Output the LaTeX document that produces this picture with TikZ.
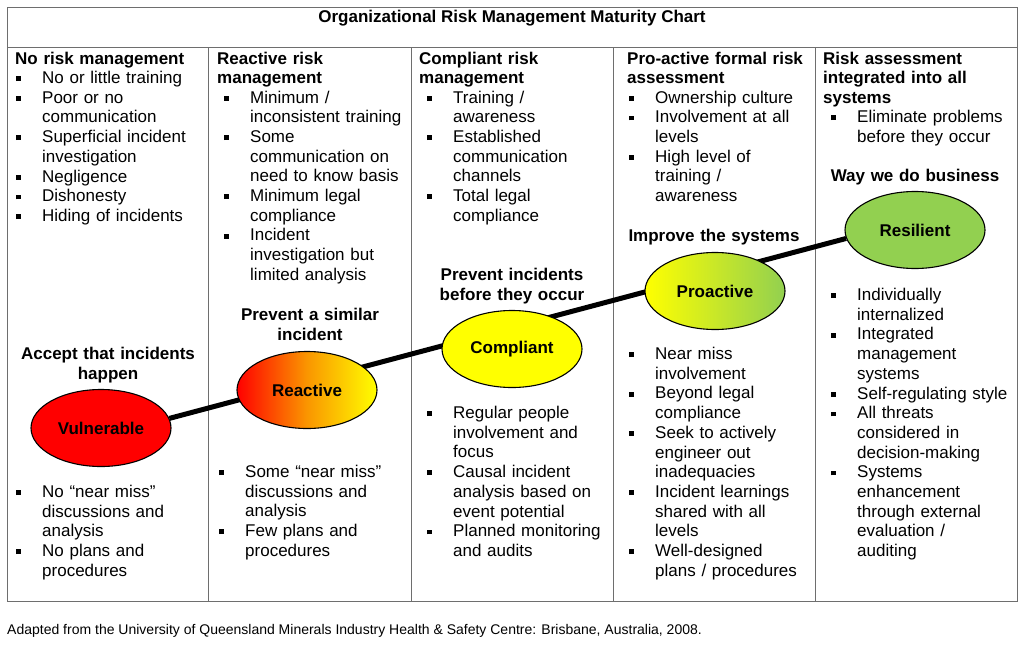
\documentclass[tikz,border=0pt]{standalone}
\usepackage{fontspec}
\setmainfont{Liberation Sans}
\usetikzlibrary{shapes.geometric,backgrounds}

\definecolor{riskred}{RGB}{255,0,0}
\definecolor{riskorange}{RGB}{250,150,0}
\definecolor{riskyellow}{RGB}{255,255,0}
\definecolor{riskgreen}{RGB}{146,208,80}
\definecolor{rulegray}{RGB}{110,110,110}

\newlength{\bgap}
\setlength{\bgap}{26pt}
\newcommand{\bodyfont}{\fontsize{17}{19.7}\selectfont}
\newcommand{\bsq}{\rule[2.4pt]{4.8pt}{4.8pt}}
\newcommand{\bitem}[1]{{\def\\{\hfil\break}\hangindent=\bgap\hangafter=1%
  \noindent\makebox[\bgap][l]{\bsq}#1\par}}

\begin{document}
\begin{tikzpicture}[x=1pt, y=-1pt,
  rule/.style={draw=rulegray, line width=0.9pt},
  stage/.style={ellipse, draw=black, line width=1.1pt, minimum width=140pt,
    minimum height=77pt, inner sep=0pt, font=\bodyfont\bfseries},
  trend/.style={line width=5pt},
  head/.style={anchor=base west, inner sep=0pt, text width=195pt, align=left,
    font=\bodyfont\bfseries},
  aim/.style={anchor=base, inner sep=0pt, text width=195pt, align=center,
    font=\bodyfont\bfseries},
  blist/.style={anchor=base west, inner sep=0pt, text width=192pt,
    font=\bodyfont}]
  \useasboundingbox (0,0) rectangle (1024,645);

  % title and column heads
  \node[anchor=base, inner sep=0pt, font=\bodyfont\bfseries] (title) at (512,22)
    {Organizational Risk Management Maturity Chart};
  \node[head] (head1) at (15,64) {No risk management};
  \node[head] (head2) at (217,64) {Reactive risk\\management};
  \node[head] (head3) at (419,64) {Compliant risk\\management};
  \node[head] (head4) at (627,64) {Pro-active formal risk\\assessment};
  \node[head] (head5) at (823,64) {Risk assessment\\integrated into all\\systems};

  % upper lists
  \node[blist] (top1) at (16,83.5) {\bitem{No or little training}
    \bitem{Poor or no\\communication}
    \bitem{Superficial incident\\investigation}
    \bitem{Negligence}
    \bitem{Dishonesty}
    \bitem{Hiding of incidents}};
  \node[blist] (top2) at (224,103) {\bitem{Minimum /\\inconsistent training}
    \bitem{Some\\communication on\\need to know basis}
    \bitem{Minimum legal\\compliance}
    \bitem{Incident\\investigation but\\limited analysis}};
  \node[blist] (top3) at (427,103) {\bitem{Training /\\awareness}
    \bitem{Established\\communication\\channels}
    \bitem{Total legal\\compliance}};
  \node[blist] (top4) at (629,103) {\bitem{Ownership culture}
    \bitem{Involvement at all\\levels}
    \bitem{High level of\\training /\\awareness}};
  \node[blist] (top5) at (831,122.5) {\bitem{Eliminate problems\\before they occur}};

  % aims above the stages
  \node[aim] (aim1) at (108,359.5) {Accept that incidents\\happen};
  \node[aim] (aim2) at (310,320.5) {Prevent a similar\\incident};
  \node[aim] (aim3) at (512,280.5) {Prevent incidents\\before they occur};
  \node[aim] (aim4) at (714,241.5) {Improve the systems};
  \node[aim] (aim5) at (915,181.5) {Way we do business};

  % maturity stages
  \node[stage, fill=riskred] (vulnerable) at (101,428) {Vulnerable};
  \node[stage, left color=riskred, right color=riskyellow, middle color=riskorange]
    (reactive) at (307,390) {Reactive};
  \node[stage, fill=riskyellow] (compliant) at (512,349) {Compliant};
  \node[stage, left color=riskyellow, right color=riskgreen] (proactive) at (715,291) {Proactive};
  \node[stage, fill=riskgreen] (resilient) at (915,230) {Resilient};

  % lower lists
  \node[blist] (low1) at (16,497.5) {\bitem{No “near miss”\\discussions and\\analysis}
    \bitem{No plans and\\procedures}};
  \node[blist] (low2) at (219,477.5) {\bitem{Some “near miss”\\discussions and\\analysis}
    \bitem{Few plans and\\procedures}};
  \node[blist] (low3) at (427,418.5) {\bitem{Regular people\\involvement and\\focus}
    \bitem{Causal incident\\analysis based on\\event potential}
    \bitem{Planned monitoring\\and audits}};
  \node[blist] (low4) at (629,359.5) {\bitem{Near miss\\involvement}
    \bitem{Beyond legal\\compliance}
    \bitem{Seek to actively\\engineer out\\inadequacies}
    \bitem{Incident learnings\\shared with all\\levels}
    \bitem{Well-designed\\plans / procedures}};
  \node[blist] (low5) at (831,300.5) {\bitem{Individually\\internalized}
    \bitem{Integrated\\management\\systems}
    \bitem{Self-regulating style}
    \bitem{All threats\\considered in\\decision-making}
    \bitem{Systems\\enhancement\\through external\\evaluation /\\auditing}};

  % source note
  \node[anchor=base west, inner sep=0pt, font=\fontsize{14}{16}\selectfont] (source) at (7,634)
    {Adapted from the University of Queensland Minerals Industry Health \& Safety Centre: Brisbane, Australia, 2008.};

  \begin{scope}[on background layer]
    % table grid
    \draw[rule] (7,7) rectangle (1017,601);
    \draw[rule] (7,47) -- (1017,47);
    \foreach \x in {208,411,613,815}
      \draw[rule] (\x,47) -- (\x,601);
    % trend line behind the stages
    \draw[trend] (vulnerable.8) -- (resilient.187);
  \end{scope}
\end{tikzpicture}
\end{document}
